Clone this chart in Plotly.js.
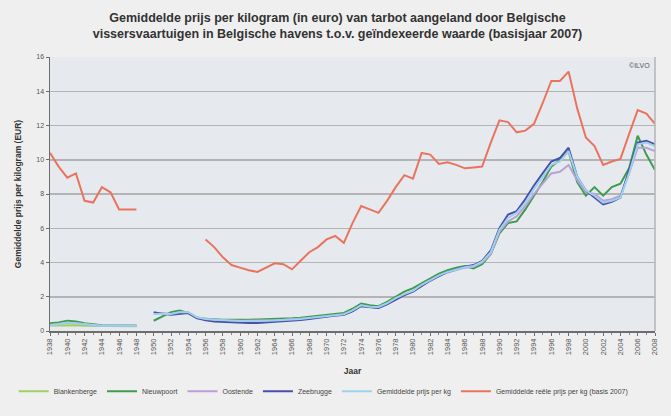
<!DOCTYPE html>
<html>
<head>
<meta charset="utf-8">
<script src="https://cdn.plot.ly/plotly-3.0.1.min.js"></script>
<style>html,body{margin:0;padding:0;background:#efefef;}</style>
</head>
<body>
<div id="chart" style="width:671px;height:416px;"></div>
<script>
// Years 1938 - 2008
const years = [];
for (let y = 1938; y <= 2008; y++) years.push(y);

const seriesNames = ["Blankenberge", "Nieuwpoort", "Oostende", "Zeebrugge",
  "Gemiddelde prijs per kg", "Gemiddelde reële prijs per kg (basis 2007)"];

const N = null;

const blankenberge = [
  0.32,0.33,0.35,0.33,0.3,0.3,0.28,0.28,0.28,0.28,0.28,
  N,
  N,N,N,N,N,N,N,N,N,N,
  N,N,N,N,N,N,N,N,N,N,
  N,N,N,N,N,N,N,N,N,N,
  N,N,N,N,N,N,N,N,N,N,
  N,N,N,N,N,N,N,N,N,N,
  N,N,N,N,N,N,N,N,N
];

const nieuwpoort = [
  0.45,0.5,0.6,0.55,0.45,0.38,0.34,0.32,0.32,0.32,0.32,
  N,
  0.6,0.85,1.1,1.2,1.05,0.75,0.7,0.68,0.66,0.65,
  0.65,0.66,0.67,0.68,0.7,0.72,0.74,0.78,0.84,0.9,
  0.95,1.0,1.05,1.3,1.6,1.5,1.45,1.7,2.0,2.3,
  2.5,2.8,3.1,3.35,3.55,3.7,3.8,3.65,3.9,4.5,
  5.7,6.3,6.4,7.1,7.9,8.7,9.6,10.0,10.5,8.7,
  7.9,8.4,7.9,8.4,8.6,9.5,11.4,10.3,9.4
];

const oostende = [
  0.35,0.4,0.48,0.45,0.37,0.33,0.3,0.3,0.3,0.3,0.3,
  N,
  1.0,1.05,1.0,1.1,1.1,0.8,0.7,0.66,0.63,0.6,
  0.6,0.6,0.6,0.62,0.63,0.65,0.67,0.7,0.75,0.8,
  0.86,0.9,0.95,1.18,1.48,1.4,1.38,1.6,1.9,2.1,
  2.3,2.65,2.95,3.2,3.42,3.55,3.7,3.75,4.0,4.5,
  5.8,6.4,6.7,7.3,8.0,8.6,9.2,9.3,9.7,8.8,
  8.1,8.0,7.6,7.7,7.9,9.2,10.7,10.7,10.5
];

const zeebrugge = [
  N,N,N,N,N,N,N,N,N,N,N,
  N,
  1.1,1.0,0.95,1.0,1.05,0.75,0.62,0.55,0.52,0.5,
  0.48,0.47,0.47,0.5,0.52,0.55,0.58,0.64,0.7,0.78,
  0.85,0.9,0.95,1.15,1.45,1.38,1.35,1.55,1.85,2.1,
  2.3,2.65,2.95,3.2,3.45,3.6,3.75,3.85,4.1,4.7,
  6.0,6.8,7.0,7.7,8.5,9.2,9.9,10.1,10.7,9.0,
  8.2,7.8,7.4,7.55,7.8,9.4,11.0,11.1,10.9
];

const gemiddelde = [
  0.35,0.4,0.5,0.45,0.38,0.33,0.3,0.3,0.3,0.3,0.3,
  N,
  1.0,1.0,1.0,1.1,1.1,0.8,0.7,0.65,0.62,0.6,
  0.58,0.58,0.58,0.6,0.62,0.64,0.66,0.7,0.76,0.82,
  0.88,0.92,0.98,1.2,1.5,1.42,1.4,1.62,1.92,2.15,
  2.35,2.7,3.0,3.25,3.45,3.58,3.72,3.8,4.05,4.6,
  5.9,6.6,6.9,7.5,8.3,9.0,9.7,9.9,10.5,9.0,
  8.2,7.9,7.5,7.6,7.8,9.2,10.9,11.0,10.8
];

const reeel = [
  10.4,9.6,8.95,9.2,7.6,7.5,8.4,8.1,7.1,7.1,7.1,
  N,N,N,N,N,N,N,
  5.35,4.9,4.3,3.85,3.7,3.55,3.45,3.7,3.95,3.9,3.6,4.1,4.6,4.9,
  5.35,5.55,5.15,6.3,7.3,7.1,6.9,7.6,8.4,9.1,
  8.9,10.4,10.3,9.75,9.85,9.7,9.5,9.55,9.6,11.0,
  12.3,12.2,11.6,11.7,12.1,13.3,14.6,14.6,15.15,13.0,
  11.3,10.8,9.7,9.9,10.05,11.5,12.9,12.7,12.1
];

const tickYears = years.filter(y => (y - 1938) % 2 === 0);
const tickLabels = tickYears.map(String);
const yTicks = [0,2,4,6,8,10,12,14,16];

const allSeries = [blankenberge, nieuwpoort, oostende, zeebrugge, gemiddelde, reeel];
const colors = ["#9fd160", "#3f9b4f", "#b9a0d8", "#4a4fa8", "#9dd0ea", "#e9745e"];

const traces = allSeries.map((vals, i) => ({
  x: years, y: vals, name: seriesNames[i], type: "scatter", mode: "lines",
  line: {color: colors[i], width: 2}, connectgaps: false
}));

const font = "Liberation Sans, Arial, sans-serif";

const layout = {
  width: 671, height: 416,
  paper_bgcolor: "#efefef",
  plot_bgcolor: "#e6eaee",
  margin: {l: 50, r: 16, t: 57, b: 84},
  font: {family: font, color: "#444"},
  title: {
    text: "<b>Gemiddelde prijs per kilogram (in euro) van tarbot aangeland door Belgische<br>vissersvaartuigen in Belgische havens t.o.v. geïndexeerde waarde (basisjaar 2007)</b>",
    font: {size: 12.5, color: "#333", family: font},
    x: 0.503, xanchor: "center", y: 0.948, yanchor: "middle"
  },
  xaxis: {
    range: [1938, 2008], tickvals: tickYears, ticktext: tickLabels,
    tickangle: -90, tickfont: {size: 7.5, color: "#555"},
    showgrid: false, zeroline: false,
    showline: true, linecolor: "#6d6d6d", linewidth: 1.5,
    ticks: "outside", ticklen: 3, tickcolor: "#6d6d6d",
    minor: {dtick: 1, ticks: "outside", ticklen: 2, tickcolor: "#888"},
    automargin: false,
    title: {text: "<b>Jaar</b>", font: {size: 8.5, color: "#333"}, standoff: 14}
  },
  yaxis: {
    range: [0, 16], tickvals: yTicks, ticktext: yTicks.map(String),
    tickfont: {size: 7, color: "#555"},
    showgrid: true, gridcolor: "#b4b4b4", gridwidth: 1.5,
    zeroline: false, showline: true, linecolor: "#6d6d6d", linewidth: 1.5,
    ticks: "outside", ticklen: 3, tickcolor: "#6d6d6d",
    automargin: false,
    title: {text: "<b>Gemiddelde prijs per kilogram (EUR)</b>", font: {size: 8.5, color: "#333"}, standoff: 13}
  },
  shapes: [{type: "line", xref: "paper", yref: "paper", x0: 1, x1: 1, y0: 0, y1: 1,
    line: {color: "#b4b4b4", width: 1.5}}],
  annotations: [{text: "©ILVO", xref: "paper", yref: "paper", x: 0.995, y: 0.99,
    xanchor: "right", yanchor: "top", showarrow: false, font: {size: 7, color: "#555"}}],
  legend: {
    orientation: "h", x: -0.06, xanchor: "left", y: -0.215, yanchor: "middle",
    font: {size: 7, color: "#444"}, itemwidth: 30, bgcolor: "rgba(0,0,0,0)",
    tracegroupgap: 0
  },
  showlegend: true
};

Plotly.newPlot("chart", traces, layout, {displayModeBar: false, staticPlot: true});
</script>
</body>
</html>
